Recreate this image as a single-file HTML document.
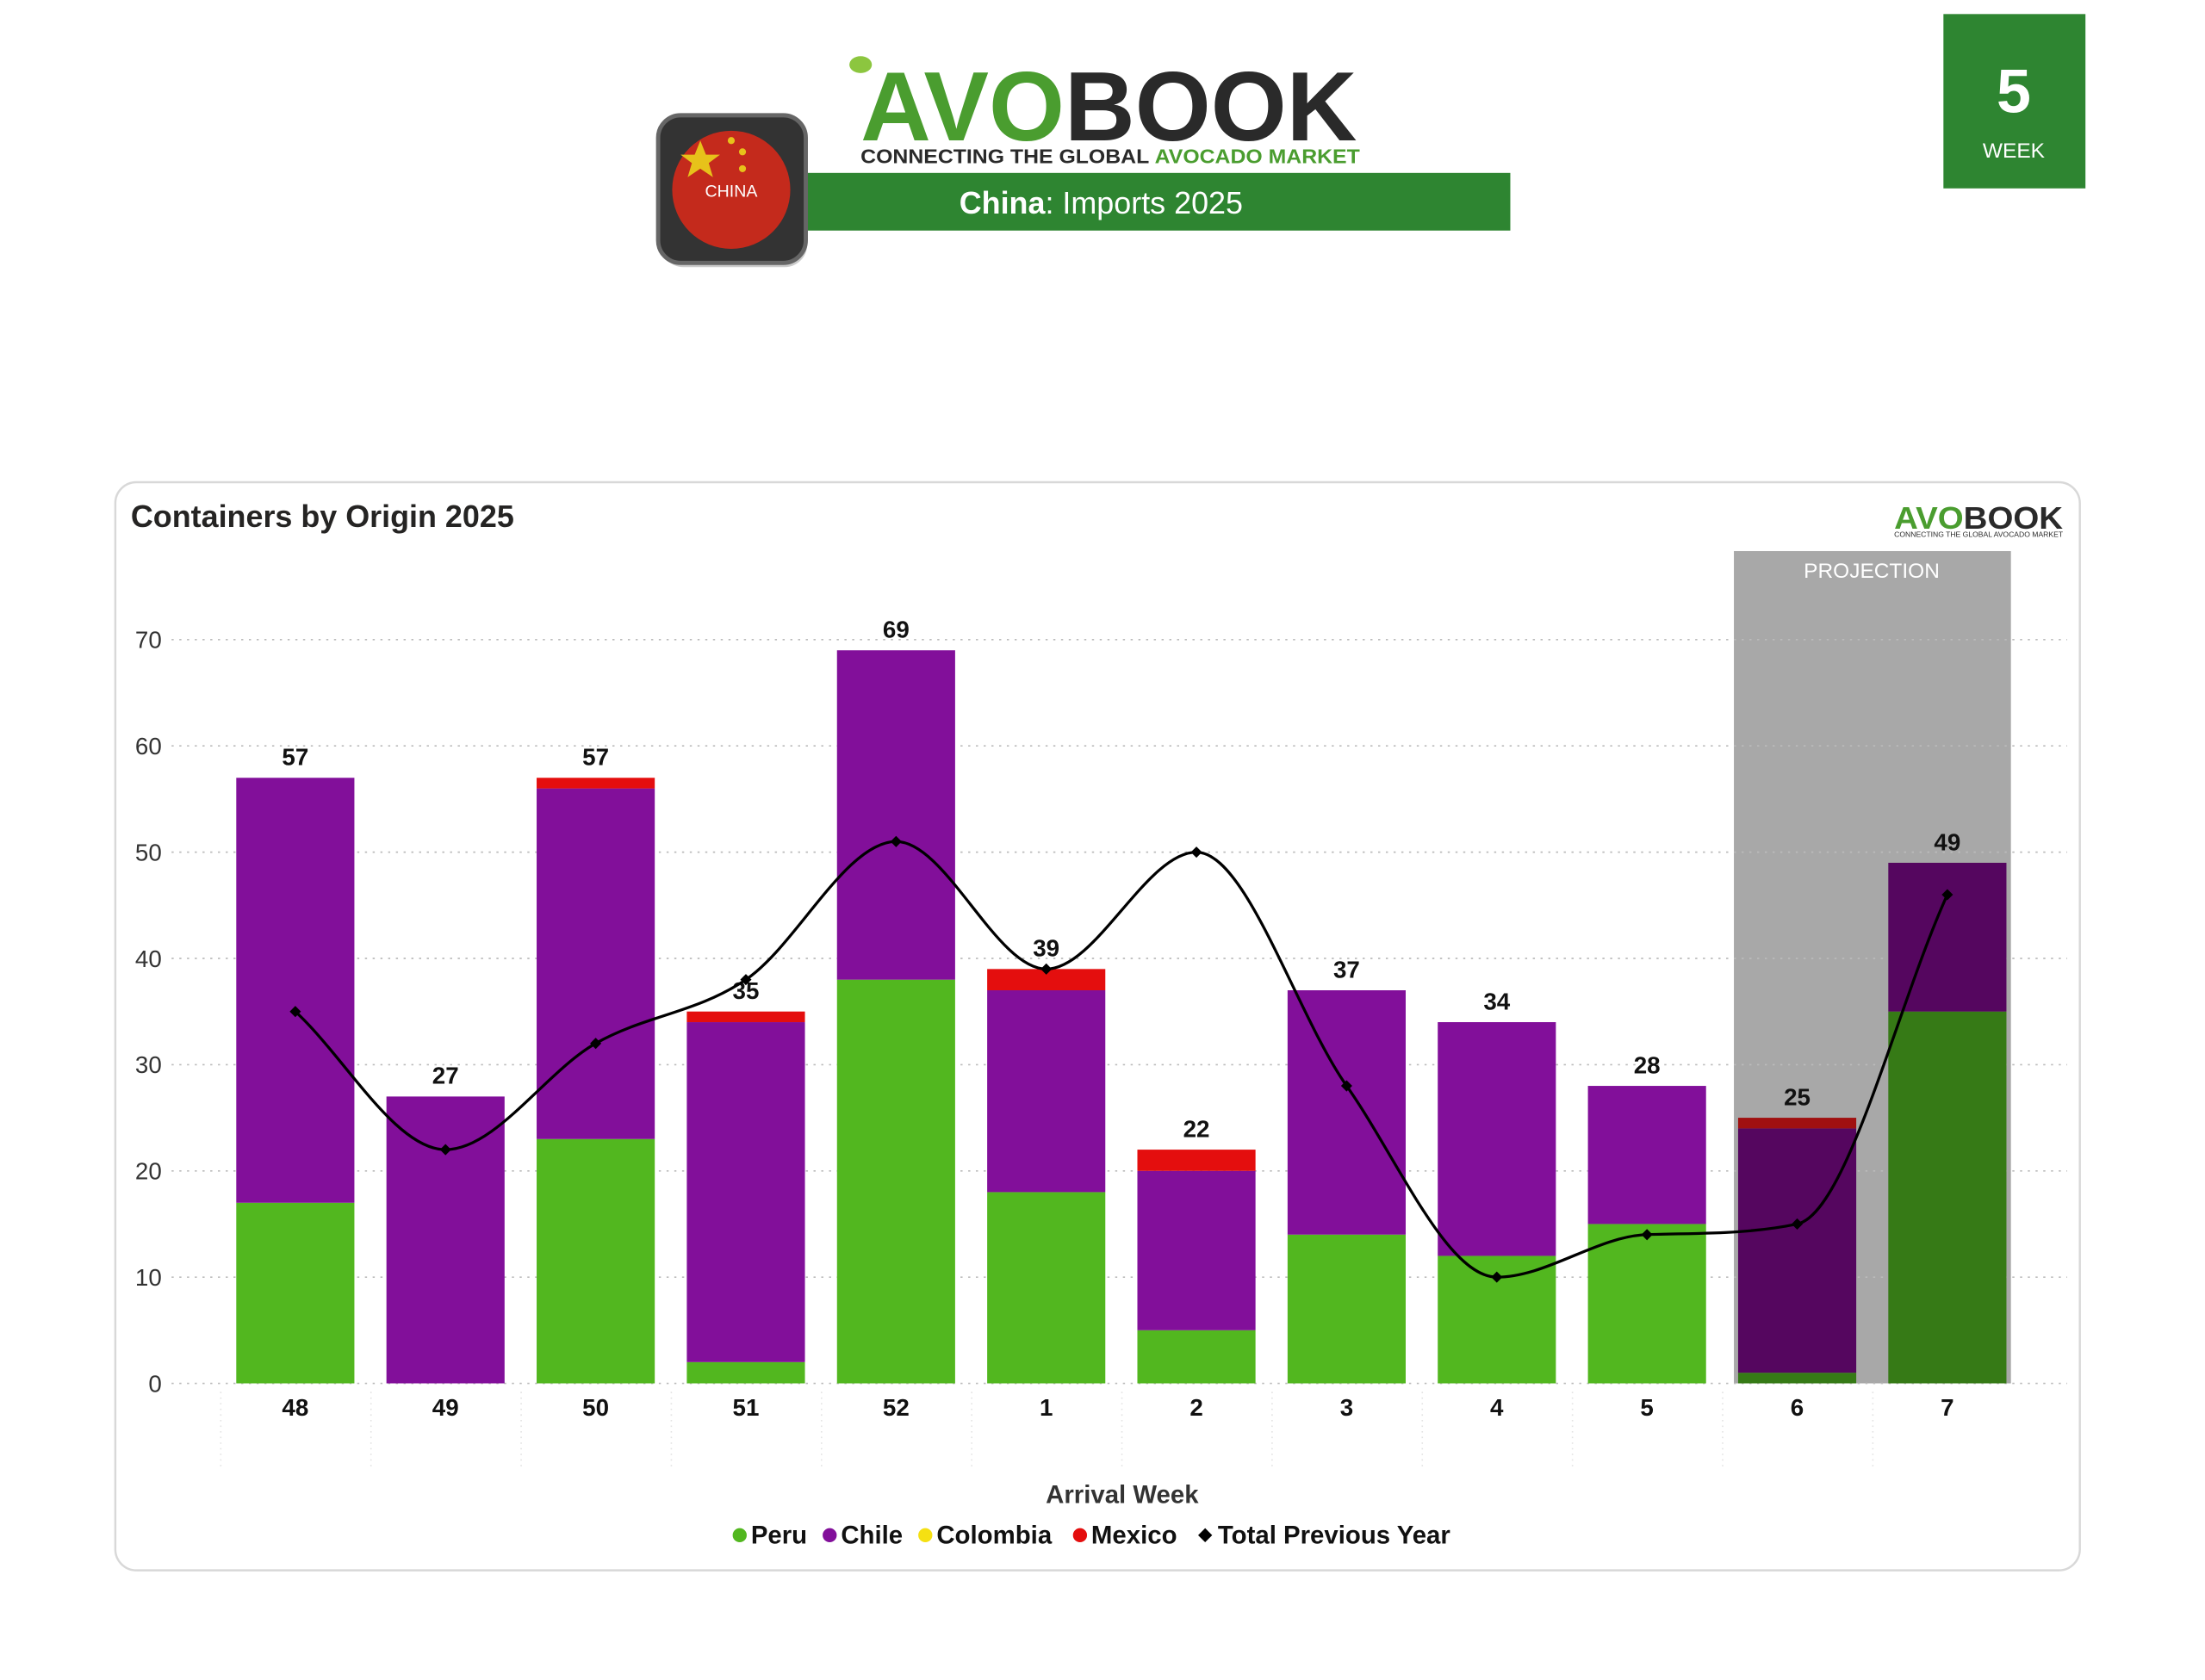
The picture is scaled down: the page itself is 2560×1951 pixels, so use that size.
<!DOCTYPE html>
<html><head><meta charset="utf-8"><style>
html,body{margin:0;padding:0;background:#fff;}
svg{display:block;}
text{font-family:"Liberation Sans",sans-serif;}
</style></head><body>
<svg id="s" width="2560" height="1951" viewBox="0 0 1568 1195" xmlns="http://www.w3.org/2000/svg">
<rect width="1568" height="1195" fill="#fff"/>
<rect x="548" y="123" width="526" height="41" fill="#2e8531"/>
<text x="783" y="152" font-size="22" fill="#fff" text-anchor="middle"><tspan font-weight="bold">China</tspan>: Imports 2025</text>
<rect x="470" y="86" width="104" height="104" rx="16" fill="#999" opacity="0.5"/>
<rect x="468" y="82" width="105" height="105" rx="16" fill="#333" stroke="#666" stroke-width="3"/>
<circle cx="520" cy="135" r="42" fill="#c42a1c"/>
<polygon points="498,100 502,110 512,110 504,116 507,126 498,120 489,126 492,116 484,110 494,110" fill="#e7c21a"/>
<circle cx="520" cy="100" r="2.5" fill="#e7c21a"/><circle cx="528" cy="108" r="2.5" fill="#e7c21a"/><circle cx="528" cy="120" r="2.5" fill="#e7c21a"/>
<text x="520" y="140" font-size="12" fill="#fff" text-anchor="middle">CHINA</text>
<text x="612" y="100" font-size="70" font-weight="bold" textLength="353" lengthAdjust="spacingAndGlyphs"><tspan fill="#4a9d2f">AVO</tspan><tspan fill="#2a2a2a">BOOK</tspan></text>
<ellipse cx="612" cy="46" rx="8" ry="6" fill="#8cc63f"/>
<text x="612" y="116" font-size="14" font-weight="bold" textLength="355" lengthAdjust="spacingAndGlyphs"><tspan fill="#2a2a2a">CONNECTING THE GLOBAL </tspan><tspan fill="#4a9d2f">AVOCADO MARKET</tspan></text>
<rect x="1382" y="10" width="101" height="124" fill="#2e8531"/>
<text x="1432" y="80" font-size="44" font-weight="bold" fill="#fff" text-anchor="middle">5</text>
<text x="1432" y="112" font-size="15" fill="#fff" text-anchor="middle">WEEK</text>
<rect x="82" y="343" width="1397" height="774" rx="15" fill="#fff" stroke="#d8d8d8" stroke-width="1.5"/>
<text x="93" y="375" font-size="22" font-weight="bold" fill="#252423">Containers by Origin 2025</text>
<text x="1347" y="376" font-size="22" font-weight="bold" textLength="120" lengthAdjust="spacingAndGlyphs"><tspan fill="#4a9d2f">AVO</tspan><tspan fill="#2a2a2a">BOOK</tspan></text>
<text x="1347" y="382" font-size="5" textLength="120" lengthAdjust="spacingAndGlyphs" fill="#2a2a2a">CONNECTING THE GLOBAL AVOCADO MARKET</text>
<rect x="1233" y="392" width="197" height="592" fill="#a8a8a8"/>
<text x="1331" y="411" font-size="15" fill="#fff" text-anchor="middle">PROJECTION</text>
<g id="g"></g>
<text x="798" y="1069" font-size="18" font-weight="bold" fill="#333" text-anchor="middle">Arrival Week</text>
<g font-size="18" font-weight="bold" fill="#111">
<circle cx="526" cy="1092" r="5" fill="#52b71f"/><text x="534" y="1098">Peru</text>
<circle cx="590" cy="1092" r="5" fill="#820f9a"/><text x="598" y="1098">Chile</text>
<circle cx="658" cy="1092" r="5" fill="#f5e012"/><text x="666" y="1098">Colombia</text>
<circle cx="768" cy="1092" r="5" fill="#e40e0e"/><text x="776" y="1098">Mexico</text>
<polygon points="857,1087 862,1092 857,1097 852,1092" fill="#000"/><text x="866" y="1098">Total Previous Year</text>
</g>
</svg>
<script>
var g=document.getElementById('g'),h='';
function Y(v){return 984-7.557*v;}
for(var v=0;v<=70;v+=10){h+='<line x1="122" x2="1470" y1="'+Y(v)+'" y2="'+Y(v)+'" stroke="#bbb" stroke-width="1" stroke-dasharray="1.5,4"/>';
h+='<text x="115" y="'+(Y(v)+6)+'" font-size="17" fill="#333" text-anchor="end">'+v+'</text>';}
var wk=[48,49,50,51,52,1,2,3,4,5,6,7],pe=[17,0,23,2,38,18,5,14,12,15,1,35],ch=[40,27,33,32,31,19,15,23,22,13,23,14],mx=[0,0,1,1,0,2,2,0,0,0,1,0],ln=[35,22,32,38,51,39,50,28,10,14,15,46];
var pts=[];
for(var i=0;i<12;i++){var cx=210+106.8*i,x=cx-42,d=i>=10;
var cP=d?'#367a16':'#52b71f',cC=d?'#55065f':'#820f9a',cM=d?'#a01010':'#e40e0e';
var b=0;
[[pe[i],cP],[ch[i],cC],[mx[i],cM]].forEach(function(s){if(s[0]>0){h+='<rect x="'+x+'" y="'+Y(b+s[0])+'" width="84" height="'+(7.557*s[0])+'" fill="'+s[1]+'"/>';}b+=s[0];});
h+='<text x="'+cx+'" y="'+(Y(b)-9)+'" font-size="17" font-weight="bold" fill="#111" text-anchor="middle">'+b+'</text>';
h+='<text x="'+cx+'" y="1007" font-size="17" font-weight="bold" fill="#111" text-anchor="middle">'+wk[i]+'</text>';
h+='<line x1="'+(cx-53)+'" x2="'+(cx-53)+'" y1="990" y2="1045" stroke="#e3e3e3" stroke-dasharray="1,3"/>';
pts.push([cx,Y(ln[i])]);}
// monotone cubic
var n=pts.length,dx=106.8,dl=[],m=[];
for(var i=0;i<n-1;i++)dl.push((pts[i+1][1]-pts[i][1])/dx);
m[0]=dl[0];m[n-1]=dl[n-2];
for(var i=1;i<n-1;i++){m[i]=(dl[i-1]*dl[i]<=0)?0:(dl[i-1]+dl[i])/2;}
for(var i=0;i<n-1;i++){if(dl[i]==0){m[i]=m[i+1]=0;continue;}var a=m[i]/dl[i],bb=m[i+1]/dl[i],s=a*a+bb*bb;if(s>9){var t=3/Math.sqrt(s);m[i]=t*a*dl[i];m[i+1]=t*bb*dl[i];}}
var p='M'+pts[0][0]+','+pts[0][1];
for(var i=0;i<n-1;i++){var p1=pts[i],p2=pts[i+1];
p+=' C'+(p1[0]+dx/3)+','+(p1[1]+m[i]*dx/3)+' '+(p2[0]-dx/3)+','+(p2[1]-m[i+1]*dx/3)+' '+p2[0]+','+p2[1];}
h+='<path d="'+p+'" fill="none" stroke="#000" stroke-width="2"/>';
pts.forEach(function(q){h+='<polygon points="'+q[0]+','+(q[1]-4)+' '+(q[0]+4)+','+q[1]+' '+q[0]+','+(q[1]+4)+' '+(q[0]-4)+','+q[1]+'" fill="#000"/>';});
g.innerHTML=h;
</script>
</body></html>
